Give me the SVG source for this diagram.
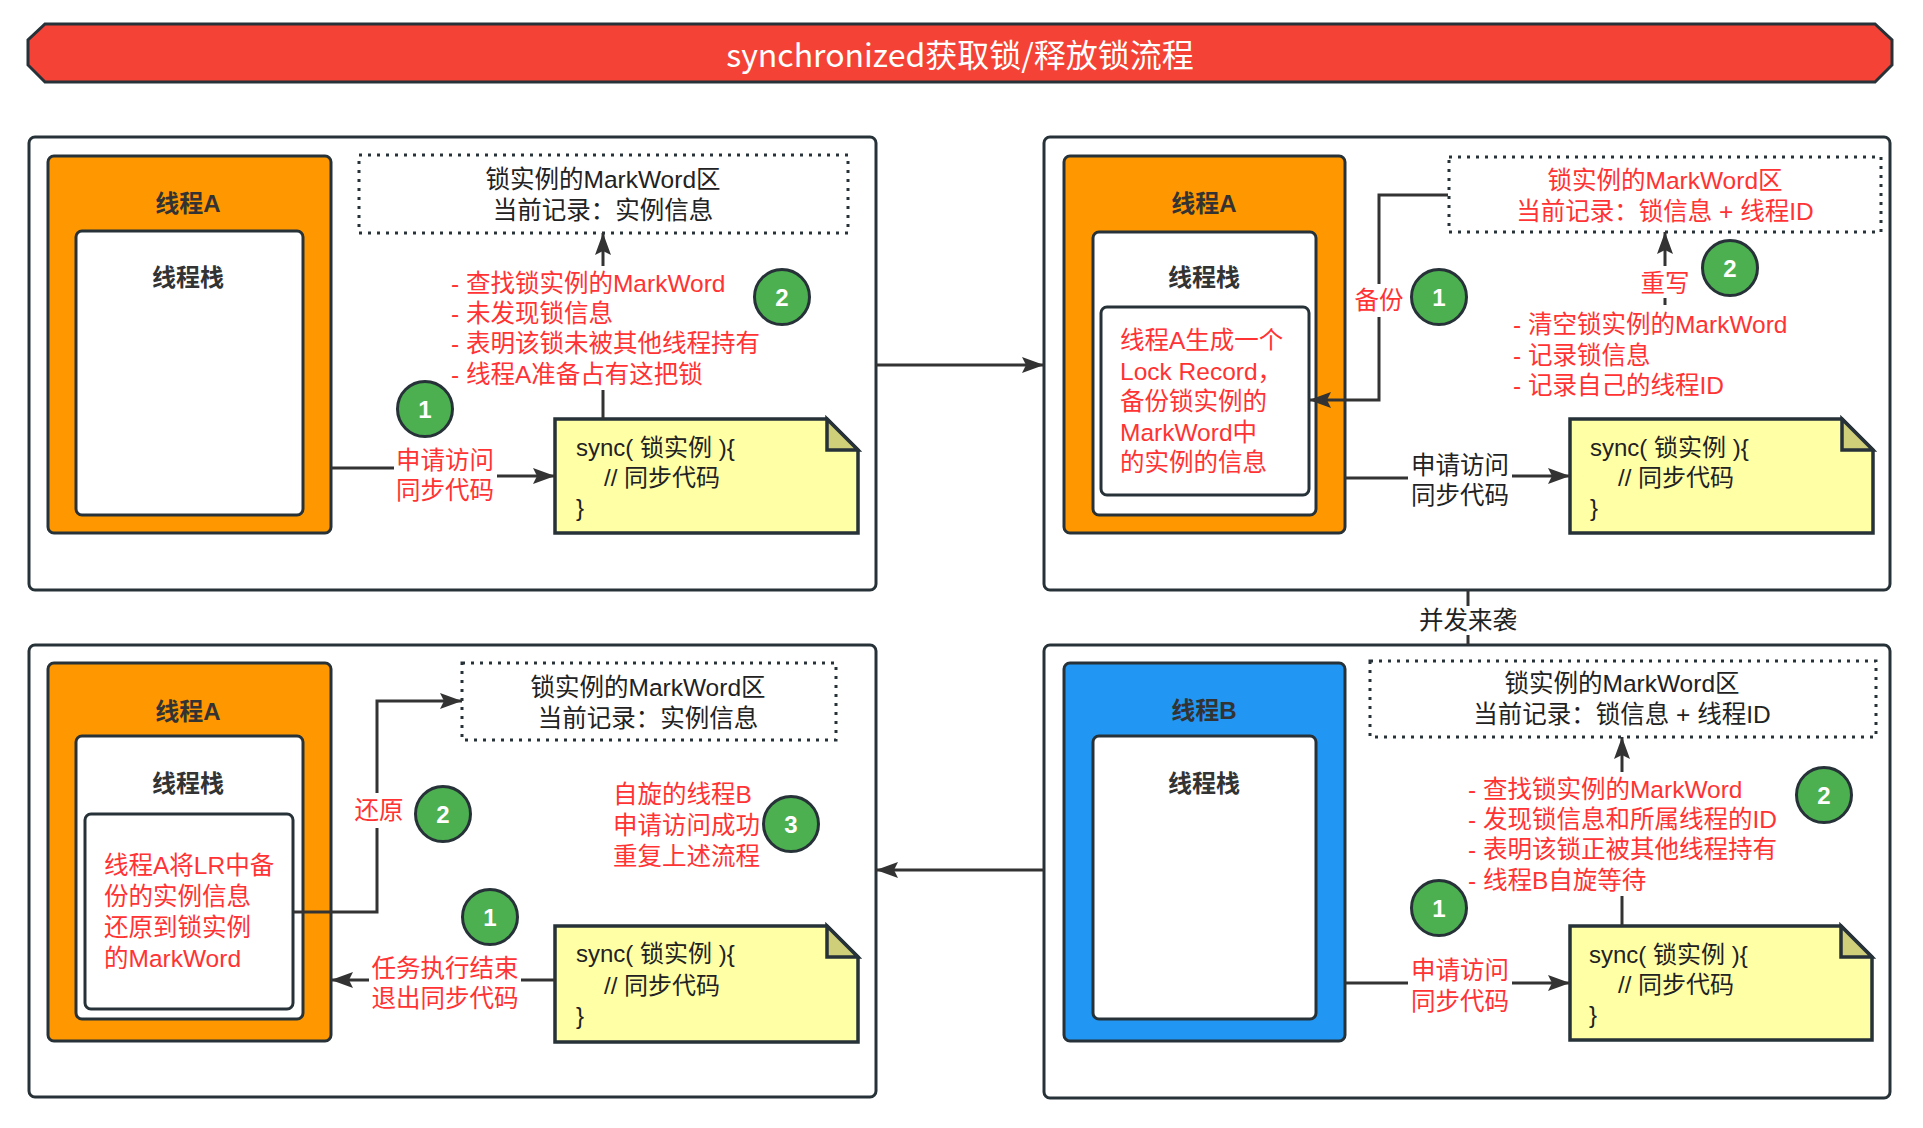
<svg xmlns="http://www.w3.org/2000/svg" width="1923" height="1128" viewBox="0 0 1923 1128">
<style>
text{font-family:"Liberation Sans","Noto Sans CJK SC",sans-serif;dominant-baseline:central}
tspan{dominant-baseline:central}
.panel{fill:#fff;stroke:#263238;stroke-width:3}
.orange{fill:#FF9800;stroke:#263238;stroke-width:3}
.blue{fill:#2196F3;stroke:#263238;stroke-width:3}
.stack{fill:#fff;stroke:#263238;stroke-width:3}
.dot{fill:#fff;stroke:#263238;stroke-width:3;stroke-dasharray:3 6}
.note{fill:#FFFFA6;stroke:#263238;stroke-width:3.5}
.fold{fill:#CFCF7A;stroke:#263238;stroke-width:3.5;stroke-linejoin:miter}
.circ{fill:#4CAF50;stroke:#263238;stroke-width:3}
.num{fill:#fff;font-size:24px;font-weight:bold;text-anchor:middle}
.hd{fill:#333;font-size:24px;font-weight:bold;text-anchor:middle}
.red{fill:#FF3333;font-size:24.5px}
.blk{fill:#222;font-size:24.5px}
.mid{text-anchor:middle}
.code{fill:#222;font-size:24px}
.edge{fill:none;stroke:#333;stroke-width:3}
</style>
<defs>
<marker id="ah" markerUnits="userSpaceOnUse" markerWidth="24" markerHeight="18" refX="22" refY="8" orient="auto">
<path d="M0,0 L22,8 L0,16 L4,8 z" fill="#333"/>
</marker>
</defs>

<g id="title">
<polygon points="45,24 1875,24 1892,40 1892,65 1875,82 45,82 28,65 28,40" fill="#F44336" stroke="#263238" stroke-width="3"/>
<text x="960" y="53" fill="#fff" font-size="32" text-anchor="middle" style="font-family:'Noto Sans CJK SC',sans-serif">synchronized获取锁/释放锁流程</text>
</g>

<!-- Top-left panel -->
<g id="panel-tl">
<rect class="panel" x="29" y="137" width="847" height="453" rx="6"/>
</g>
<g id="threadA-tl">
<rect class="orange" x="48" y="156" width="283" height="377" rx="6"/>
<text class="hd" x="188" y="203">线程A</text>
<rect class="stack" x="76" y="231" width="227" height="284" rx="6"/>
<text class="hd" x="188" y="277">线程栈</text>
</g>
<g id="markword-tl">
<rect class="dot" x="359" y="155" width="489" height="78"/>
<text class="blk mid"><tspan x="603" y="179">锁实例的MarkWord区</tspan><tspan x="603" y="210">当前记录：实例信息</tspan></text>
</g>
<g id="list-tl">
<text class="red"><tspan x="451" y="283">- 查找锁实例的MarkWord</tspan><tspan x="451" y="313">- 未发现锁信息</tspan><tspan x="451" y="343">- 表明该锁未被其他线程持有</tspan><tspan x="451" y="374">- 线程A准备占有这把锁</tspan></text>
</g>
<g id="note-tl">
<path class="note" d="M555,419 H827 L858,450 V533 H555 Z"/>
<path class="fold" d="M827,419 V450 H858 Z"/>
<text class="code"><tspan x="576" y="447">sync( 锁实例 ){</tspan><tspan x="604" y="477">// 同步代码</tspan><tspan x="576" y="507">}</tspan></text>
</g>
<g id="c-tl-1"><circle class="circ" cx="425" cy="409" r="27.5"/><text class="num" x="425" y="409">1</text></g>
<g id="c-tl-2"><circle class="circ" cx="782" cy="297" r="27.5"/><text class="num" x="782" y="297">2</text></g>

<!-- Top-right panel -->
<g id="panel-tr">
<rect class="panel" x="1044" y="137" width="846" height="453" rx="6"/>
</g>
<g id="threadA-tr">
<rect class="orange" x="1064" y="156" width="281" height="377" rx="6"/>
<text class="hd" x="1204" y="203">线程A</text>
<rect class="stack" x="1093" y="232" width="223" height="283" rx="6"/>
<text class="hd" x="1204" y="277">线程栈</text>
<rect class="stack" x="1101" y="307" width="208" height="188" rx="6"/>
<text class="red"><tspan x="1120" y="340">线程A生成一个</tspan><tspan x="1120" y="371">Lock Record，</tspan><tspan x="1120" y="401">备份锁实例的</tspan><tspan x="1120" y="432">MarkWord中</tspan><tspan x="1120" y="462">的实例的信息</tspan></text>
</g>
<g id="markword-tr">
<rect class="dot" x="1449" y="157" width="432" height="75"/>
<text class="red mid"><tspan x="1665" y="180">锁实例的MarkWord区</tspan><tspan x="1665" y="211">当前记录：锁信息 + 线程ID</tspan></text>
</g>
<g id="list-tr">
<text class="red"><tspan x="1513" y="324">- 清空锁实例的MarkWord</tspan><tspan x="1513" y="355">- 记录锁信息</tspan><tspan x="1513" y="385">- 记录自己的线程ID</tspan></text>
</g>
<g id="note-tr">
<path class="note" d="M1570,419 H1842 L1873,450 V533 H1570 Z"/>
<path class="fold" d="M1842,419 V450 H1873 Z"/>
<text class="code"><tspan x="1590" y="447">sync( 锁实例 ){</tspan><tspan x="1618" y="477">// 同步代码</tspan><tspan x="1590" y="507">}</tspan></text>
</g>
<g id="c-tr-1"><circle class="circ" cx="1439" cy="297" r="27.5"/><text class="num" x="1439" y="297">1</text></g>
<g id="c-tr-2"><circle class="circ" cx="1730" cy="268" r="27.5"/><text class="num" x="1730" y="268">2</text></g>

<!-- Bottom-left panel -->
<g id="panel-bl">
<rect class="panel" x="29" y="645" width="847" height="452" rx="6"/>
</g>
<g id="threadA-bl">
<rect class="orange" x="48" y="663" width="283" height="378" rx="6"/>
<text class="hd" x="188" y="711">线程A</text>
<rect class="stack" x="76" y="736" width="227" height="283" rx="6"/>
<text class="hd" x="188" y="783">线程栈</text>
<rect class="stack" x="85" y="814" width="208" height="195" rx="6"/>
<text class="red"><tspan x="104" y="865">线程A将LR中备</tspan><tspan x="104" y="896">份的实例信息</tspan><tspan x="104" y="927">还原到锁实例</tspan><tspan x="104" y="958">的MarkWord</tspan></text>
</g>
<g id="markword-bl">
<rect class="dot" x="462" y="663" width="374" height="77"/>
<text class="blk mid"><tspan x="648" y="687">锁实例的MarkWord区</tspan><tspan x="648" y="718">当前记录：实例信息</tspan></text>
</g>
<g id="text-bl-3">
<text class="red"><tspan x="613" y="794">自旋的线程B</tspan><tspan x="613" y="825">申请访问成功</tspan><tspan x="613" y="856">重复上述流程</tspan></text>
</g>
<g id="note-bl">
<path class="note" d="M555,926 H827 L858,957 V1042 H555 Z"/>
<path class="fold" d="M827,926 V957 H858 Z"/>
<text class="code"><tspan x="576" y="953">sync( 锁实例 ){</tspan><tspan x="604" y="985">// 同步代码</tspan><tspan x="576" y="1015">}</tspan></text>
</g>
<g id="c-bl-1"><circle class="circ" cx="490" cy="917" r="27.5"/><text class="num" x="490" y="917">1</text></g>
<g id="c-bl-2"><circle class="circ" cx="443" cy="814" r="27.5"/><text class="num" x="443" y="814">2</text></g>
<g id="c-bl-3"><circle class="circ" cx="791" cy="824" r="27.5"/><text class="num" x="791" y="824">3</text></g>

<!-- Bottom-right panel -->
<g id="panel-br">
<rect class="panel" x="1044" y="645" width="846" height="453" rx="6"/>
</g>
<g id="threadB-br">
<rect class="blue" x="1064" y="663" width="281" height="378" rx="6"/>
<text class="hd" x="1204" y="710">线程B</text>
<rect class="stack" x="1093" y="736" width="223" height="283" rx="6"/>
<text class="hd" x="1204" y="783">线程栈</text>
</g>
<g id="markword-br">
<rect class="dot" x="1370" y="661" width="506" height="76"/>
<text class="blk mid"><tspan x="1622" y="683">锁实例的MarkWord区</tspan><tspan x="1622" y="714">当前记录：锁信息 + 线程ID</tspan></text>
</g>
<g id="list-br">
<text class="red"><tspan x="1468" y="789">- 查找锁实例的MarkWord</tspan><tspan x="1468" y="819">- 发现锁信息和所属线程的ID</tspan><tspan x="1468" y="849">- 表明该锁正被其他线程持有</tspan><tspan x="1468" y="880">- 线程B自旋等待</tspan></text>
</g>
<g id="note-br">
<path class="note" d="M1570,926 H1841 L1872,957 V1040 H1570 Z"/>
<path class="fold" d="M1841,926 V957 H1872 Z"/>
<text class="code"><tspan x="1589" y="954">sync( 锁实例 ){</tspan><tspan x="1618" y="984">// 同步代码</tspan><tspan x="1589" y="1014">}</tspan></text>
</g>
<g id="c-br-1"><circle class="circ" cx="1439" cy="908" r="27.5"/><text class="num" x="1439" y="908">1</text></g>
<g id="c-br-2"><circle class="circ" cx="1824" cy="795" r="27.5"/><text class="num" x="1824" y="795">2</text></g>

<!-- Connectors -->
<g id="connectors">
<path class="edge" d="M876,365 H1044" marker-end="url(#ah)"/>
<path class="edge" d="M1044,870 H876" marker-end="url(#ah)"/>
<path class="edge" d="M1468,590 V606"/>
<path class="edge" d="M1468,635 V645"/>
<text class="blk mid" x="1468" y="620">并发来袭</text>

<!-- TL -->
<path class="edge" d="M331,468 H394"/>
<path class="edge" d="M497,476 H555" marker-end="url(#ah)"/>
<text class="red mid"><tspan x="445" y="460">申请访问</tspan><tspan x="445" y="490">同步代码</tspan></text>
<path class="edge" d="M603,419 V390"/>
<path class="edge" d="M603,266 V233" marker-end="url(#ah)"/>

<!-- TR -->
<path class="edge" d="M1448,195 H1379 V284"/>
<path class="edge" d="M1379,317 V400 H1309" marker-end="url(#ah)"/>
<text class="red mid" x="1379" y="300">备份</text>
<path class="edge" d="M1665,298 V305"/>
<path class="edge" d="M1665,266 V232" marker-end="url(#ah)"/>
<text class="red mid" x="1665" y="283">重写</text>
<path class="edge" d="M1345,478 H1408"/>
<path class="edge" d="M1512,476 H1570" marker-end="url(#ah)"/>
<text class="blk mid"><tspan x="1460" y="465">申请访问</tspan><tspan x="1460" y="495">同步代码</tspan></text>

<!-- BR -->
<path class="edge" d="M1345,983 H1408"/>
<path class="edge" d="M1512,983 H1570" marker-end="url(#ah)"/>
<text class="red mid"><tspan x="1460" y="970">申请访问</tspan><tspan x="1460" y="1001">同步代码</tspan></text>
<path class="edge" d="M1622,926 V896"/>
<path class="edge" d="M1622,772 V737" marker-end="url(#ah)"/>

<!-- BL -->
<path class="edge" d="M293,912 H377 V828"/>
<path class="edge" d="M377,793 V701 H462" marker-end="url(#ah)"/>
<text class="red mid" x="379" y="810">还原</text>
<path class="edge" d="M555,980 H521"/>
<path class="edge" d="M369,980 H331" marker-end="url(#ah)"/>
<text class="red mid"><tspan x="445" y="968">任务执行结束</tspan><tspan x="445" y="998">退出同步代码</tspan></text>
</g>
</svg>
